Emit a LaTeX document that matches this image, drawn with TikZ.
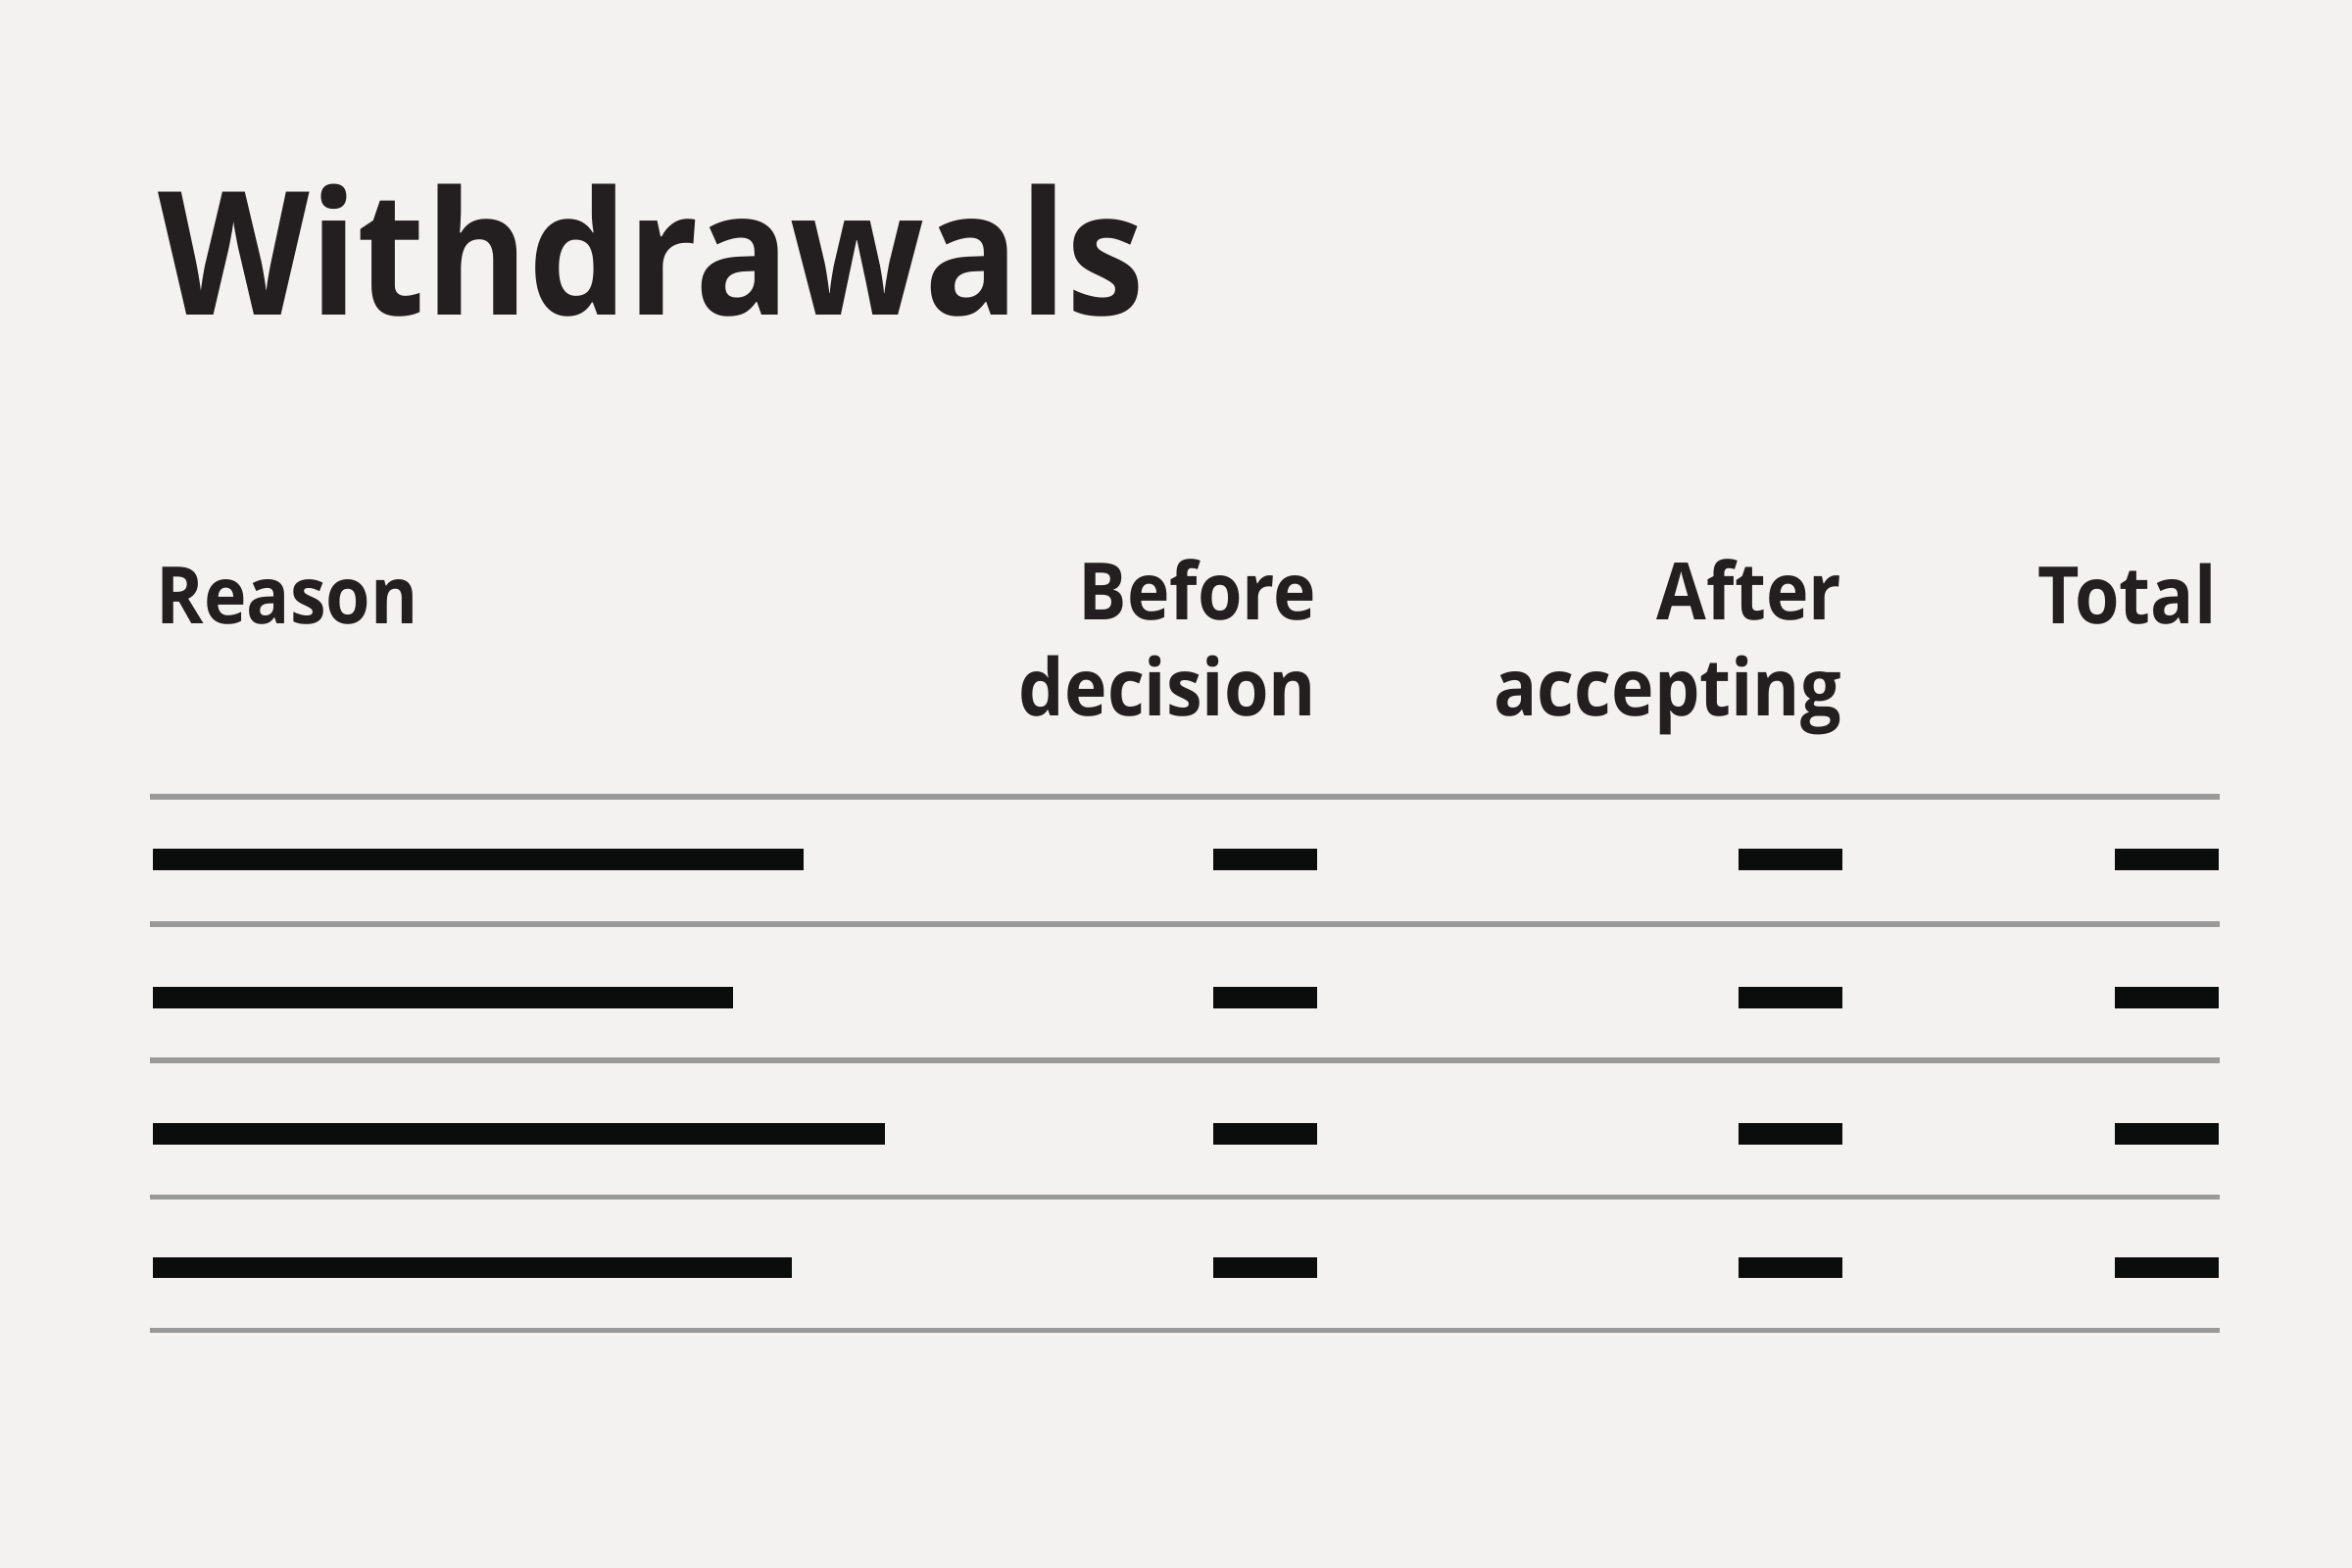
\documentclass[tikz,border=0pt]{standalone}
\usepackage{fontspec}
\setmainfont{Open Sans}[FakeStretch=0.91]
\usepackage{xcolor}
\definecolor{paper}{RGB}{243,242,240}
\definecolor{ink}{RGB}{35,31,32}
\definecolor{rulegrey}{RGB}{153,153,153}
\definecolor{barblack}{RGB}{11,13,12}
\tikzset{
    %Define style for the title
    heading/.style={
           font=\bfseries\fontsize{50}{60}\selectfont,
           text=ink,
           inner sep=0pt,
           anchor=base west},
    %Define style for column heads
    colhead/.style={
           font=\bfseries\fontsize{23}{28}\selectfont,
           text=ink,
           inner sep=0pt,
           anchor=base east},
    % Define style for table rules
    rowrule/.style={
           draw=rulegrey,
           line width=1.6pt},
    % Define style for placeholder bars
    bar/.style={
           fill=barblack}
}
\begin{document}
\begin{tikzpicture}[x=0.15306mm, y=-0.15306mm]
    \useasboundingbox[fill=paper] (0,0) rectangle (1568,1045);
    \node[heading] (title) at (105,210) {Withdrawals};
    \node[colhead, anchor=base west] (reason) at (104,416) {Reason};
    \node[colhead] (before) at (878,413) {Before};
    \node[colhead] (decision) at (878,477) {decision};
    \node[colhead] (after) at (1228,413) {After};
    \node[colhead] (accepting) at (1228,477) {accepting};
    \node[colhead] (total) at (1478,416) {Total};
    % rules
    \draw[rowrule] (100,531) -- (1480,531);
    \draw[rowrule] (100,616) -- (1480,616);
    \draw[rowrule] (100,707) -- (1480,707);
    \draw[rowrule] (100,798) -- (1480,798);
    \draw[rowrule] (100,887) -- (1480,887);
    % row 1
    \fill[bar] (102,566) rectangle (536,580);
    \fill[bar] (809,566) rectangle (878,580);
    \fill[bar] (1159,566) rectangle (1228,580);
    \fill[bar] (1410,566) rectangle (1479,580);
    % row 2
    \fill[bar] (102,658) rectangle (489,672);
    \fill[bar] (809,658) rectangle (878,672);
    \fill[bar] (1159,658) rectangle (1228,672);
    \fill[bar] (1410,658) rectangle (1479,672);
    % row 3
    \fill[bar] (102,749) rectangle (590,763);
    \fill[bar] (809,749) rectangle (878,763);
    \fill[bar] (1159,749) rectangle (1228,763);
    \fill[bar] (1410,749) rectangle (1479,763);
    % row 4
    \fill[bar] (102,838) rectangle (528,852);
    \fill[bar] (809,838) rectangle (878,852);
    \fill[bar] (1159,838) rectangle (1228,852);
    \fill[bar] (1410,838) rectangle (1479,852);
\end{tikzpicture}
\end{document}
